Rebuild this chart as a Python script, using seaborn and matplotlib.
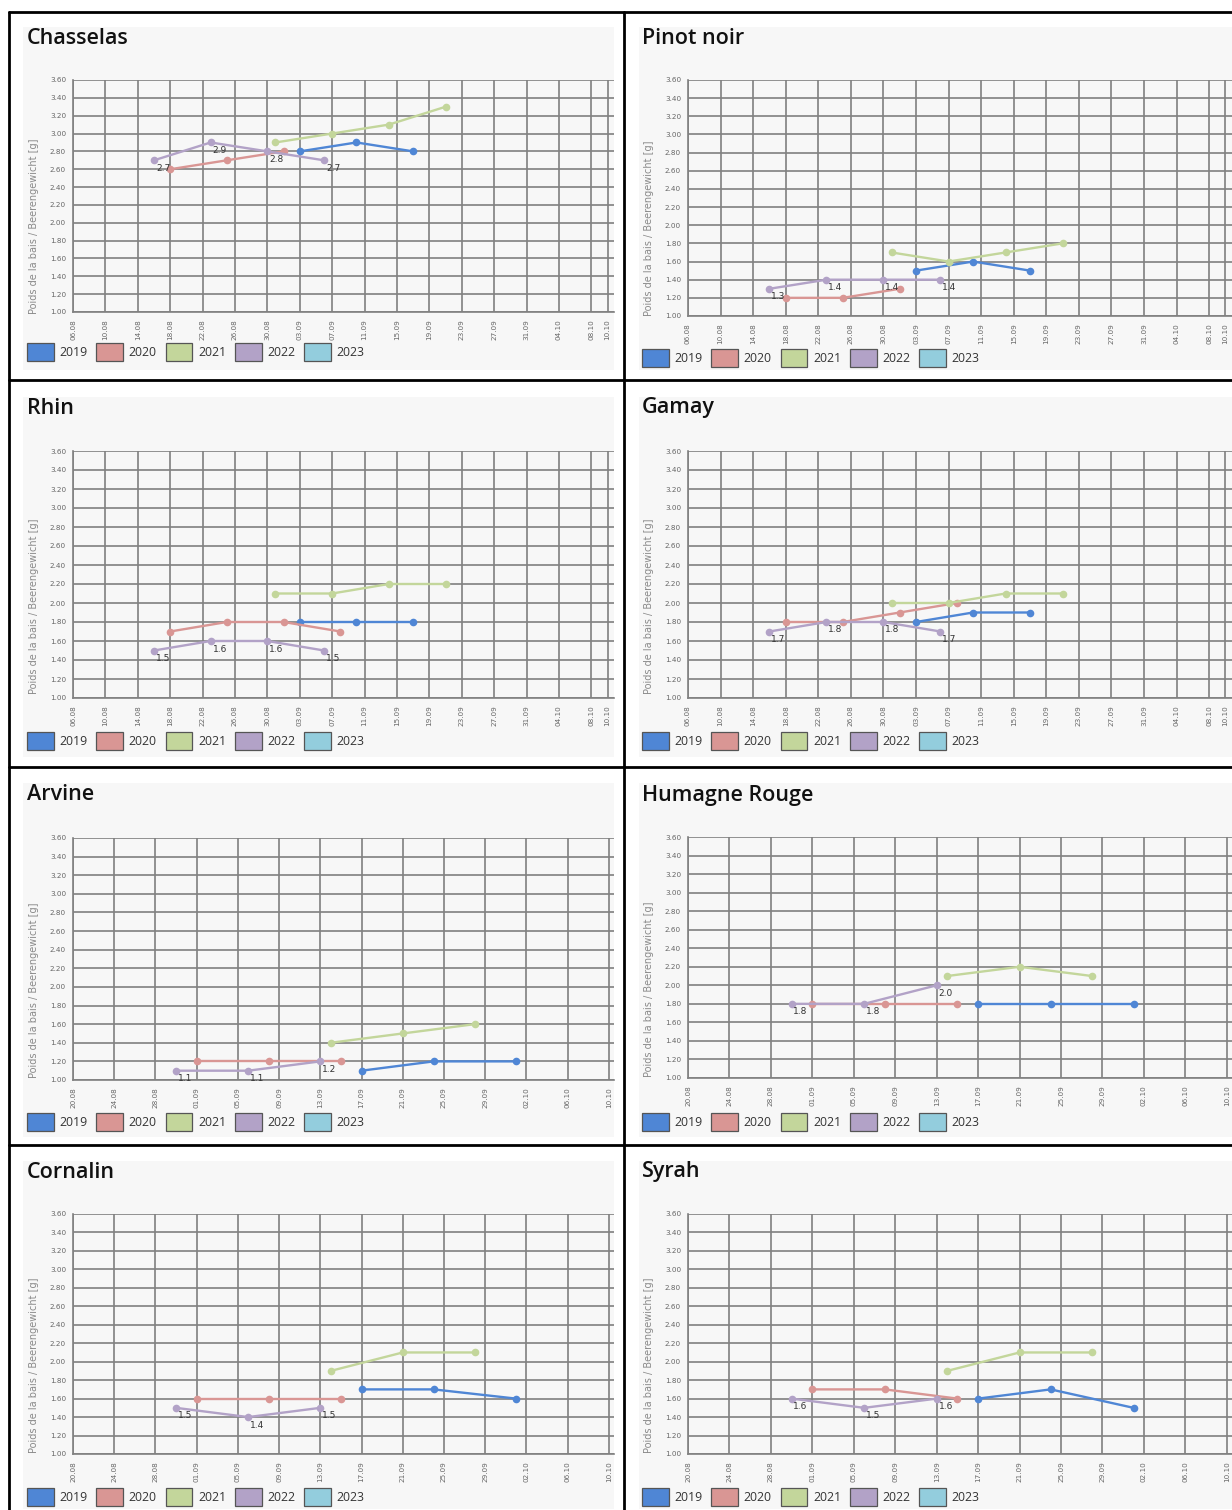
import numpy as np
import pandas as pd
import matplotlib
matplotlib.use("Agg")
import matplotlib.pyplot as plt
from matplotlib.patches import Patch, Rectangle
from matplotlib.lines import Line2D
import seaborn as sns

# --- data -------------------------------------------------------------
years = ["2019", "2020", "2021", "2022", "2023"]
colors = ["#4f86d5", "#d99694", "#c3d69b", "#b2a2c7", "#93cddd"]

# sampling dates (dd.mm) for the early and the late varieties
early_dates = {
    "2019": ["03.09", "10.09", "17.09"],
    "2020": ["18.08", "25.08", "01.09", "08.09"],
    "2021": ["31.08", "07.09", "14.09", "21.09"],
    "2022": ["16.08", "23.08", "30.08", "06.09"],
}
late_dates = {
    "2019": ["17.09", "24.09", "02.10"],
    "2020": ["01.09", "08.09", "15.09"],
    "2021": ["14.09", "21.09", "28.09"],
    "2022": ["30.08", "06.09", "13.09"],
}

early_ticks = ["06.08", "10.08", "14.08", "18.08", "22.08", "26.08", "30.08", "03.09", "07.09",
               "11.09", "15.09", "19.09", "23.09", "27.09", "31.09", "04.10", "08.10", "10.10"]
late_ticks = ["20.08", "24.08", "28.08", "01.09", "05.09", "09.09", "13.09", "17.09", "21.09",
              "25.09", "29.09", "02.10", "06.10", "10.10"]

# berry weight [g]
chasselas = {"2019": [2.8, 2.9, 2.8], "2020": [2.6, 2.7, 2.8],
             "2021": [2.9, 3.0, 3.1, 3.3], "2022": [2.7, 2.9, 2.8, 2.7]}
pinot_noir = {"2019": [1.5, 1.6, 1.5], "2020": [1.2, 1.2, 1.3],
              "2021": [1.7, 1.6, 1.7, 1.8], "2022": [1.3, 1.4, 1.4, 1.4]}
rhin = {"2019": [1.8, 1.8, 1.8], "2020": [1.7, 1.8, 1.8, 1.7],
        "2021": [2.1, 2.1, 2.2, 2.2], "2022": [1.5, 1.6, 1.6, 1.5]}
gamay = {"2019": [1.8, 1.9, 1.9], "2020": [1.8, 1.8, 1.9, 2.0],
         "2021": [2.0, 2.0, 2.1, 2.1], "2022": [1.7, 1.8, 1.8, 1.7]}
arvine = {"2019": [1.1, 1.2, 1.2], "2020": [1.2, 1.2, 1.2],
          "2021": [1.4, 1.5, 1.6], "2022": [1.1, 1.1, 1.2]}
humagne = {"2019": [1.8, 1.8, 1.8], "2020": [1.8, 1.8, 1.8],
           "2021": [2.1, 2.2, 2.1], "2022": [1.8, 1.8, 2.0]}
cornalin = {"2019": [1.7, 1.7, 1.6], "2020": [1.6, 1.6, 1.6],
            "2021": [1.9, 2.1, 2.1], "2022": [1.5, 1.4, 1.5]}
syrah = {"2019": [1.6, 1.7, 1.5], "2020": [1.7, 1.7, 1.6],
         "2021": [1.9, 2.1, 2.1], "2022": [1.6, 1.5, 1.6]}

panels = [("Chasselas", chasselas, "early"), ("Pinot noir", pinot_noir, "early"),
          ("Rhin", rhin, "early"), ("Gamay", gamay, "early"),
          ("Arvine", arvine, "late"), ("Humagne Rouge", humagne, "late"),
          ("Cornalin", cornalin, "late"), ("Syrah", syrah, "late")]

# --- layout (pixels) --------------------------------------------------
W, H = 1232, 1510
col_plot_x = [(73, 614), (688, 1232)]
col_card_x = [(23, 614), (639, 1232)]
col_text_x = [27, 642]
plot_y = [[(80, 312), (80, 316)], [(451, 698), (451, 698)],
          [(838, 1080), (837, 1078)], [(1214, 1454), (1214, 1454)]]
card_y = [(27, 370), (397, 757), (783, 1137), (1161, 1509)]
title_y = [39, 408, 795, 1172]
legend_y = [[352, 358], [741, 741], [1122, 1122], [1497, 1497]]

sns.set_style("white")
plt.rcParams["font.family"] = ["DejaVu Sans"]

fig = plt.figure(figsize=(W / 100, H / 100), dpi=100)


def fx(px):
    return px / W


def fy(py):
    return 1 - py / H


palette = dict(zip(years, colors))
start = {"early": pd.Timestamp("2000-08-06"), "late": pd.Timestamp("2000-08-20")}

for i, (name, values, group) in enumerate(panels):
    r, c = divmod(i, 2)
    dates = early_dates if group == "early" else late_dates
    rows = []
    for yr, vals in values.items():
        for d, v in zip(dates[yr], vals):
            day = (pd.to_datetime(d + ".2000", format="%d.%m.%Y") - start[group]).days
            rows.append({"year": yr, "day": day, "weight": v})
    df = pd.DataFrame(rows)

    # card background
    cx0, cx1 = col_card_x[c]
    cy0, cy1 = card_y[r]
    fig.add_artist(Rectangle((fx(cx0), fy(cy1)), fx(cx1 - cx0), (cy1 - cy0) / H,
                             transform=fig.transFigure, facecolor="#f7f7f7",
                             edgecolor="none", zorder=0))

    x0, x1 = col_plot_x[c]
    y0, y1 = plot_y[r][c]
    ax = fig.add_axes([fx(x0), fy(y1), fx(x1 - x0), (y1 - y0) / H])
    ax.set_facecolor("#f7f7f7")

    sns.lineplot(data=df, x="day", y="weight", hue="year", hue_order=years,
                 palette=palette, marker="o", markersize=5.5, mew=0, linewidth=1.7,
                 sort=False, estimator=None, legend=False, ax=ax, zorder=3)

    # value labels on the 2022 series
    sub = df[df["year"] == "2022"]
    for _, row in sub.iterrows():
        ax.annotate(f"{row['weight']:.1f}", (row["day"], row["weight"]),
                    xytext=(9, -8), textcoords="offset pixels", ha="center",
                    va="center", fontsize=6.5, color="#333333", zorder=4)

    if group == "early":
        ticks = list(range(0, 65, 4)) + [66]
        labels = early_ticks
        ax.set_xlim(0, 66.8)
    else:
        ticks = list(range(0, 53, 4))
        labels = late_ticks
        ax.set_xlim(0, 52.5)
    ax.set_xticks(ticks)
    ax.set_xticklabels(labels, rotation=90, fontsize=5.2, color="#666666")
    yt = np.round(np.arange(1.0, 3.61, 0.2), 2)
    ax.set_yticks(yt)
    ax.set_yticklabels([f"{v:.2f}" for v in yt], fontsize=5.2, color="#666666")
    ax.set_ylim(1.0, 3.6)
    ax.grid(True, color="#808080", linewidth=1.2)
    ax.set_axisbelow(True)
    ax.tick_params(length=3, width=1, color="#808080", pad=2)
    for s in ["top", "right"]:
        ax.spines[s].set_visible(False)
    for s in ["left", "bottom"]:
        ax.spines[s].set_color("#808080")
        ax.spines[s].set_linewidth(1.2)
    ax.set_xlabel("")
    ax.set_ylabel("Poids de la bais / Beerengewicht [g]", fontsize=7,
                  color="#8a8a8a")
    ax.yaxis.set_label_coords(-34 / (x1 - x0), 0.37)

    fig.text(fx(col_text_x[c]), fy(title_y[r]), name, fontsize=15.5,
             family="Open Sans", weight="semibold", color="#111111",
             va="center", ha="left")

    handles = [Patch(facecolor=col, edgecolor="#555555", linewidth=0.9) for col in colors]
    fig.legend(handles, years, loc="center left",
               bbox_to_anchor=(fx(col_text_x[c]), fy(legend_y[r][c])),
               ncol=5, frameon=False, handlelength=2.2,
               handleheight=1.9, handletextpad=0.45, columnspacing=0.72,
               borderpad=0, borderaxespad=0, labelcolor="#333333",
               prop={"family": "Open Sans", "size": 8.8})

# black cell borders
frame = dict(color="black", linewidth=2, transform=fig.transFigure, zorder=10)
fig.add_artist(Line2D([fx(9), fx(9)], [fy(12), 0], **frame))
fig.add_artist(Line2D([fx(624), fx(624)], [fy(12), 0], **frame))
for yb in [12, 380, 767, 1145]:
    fig.add_artist(Line2D([fx(9), 1], [fy(yb), fy(yb)], **frame))

fig.savefig("out.png", dpi=100, facecolor="white")
